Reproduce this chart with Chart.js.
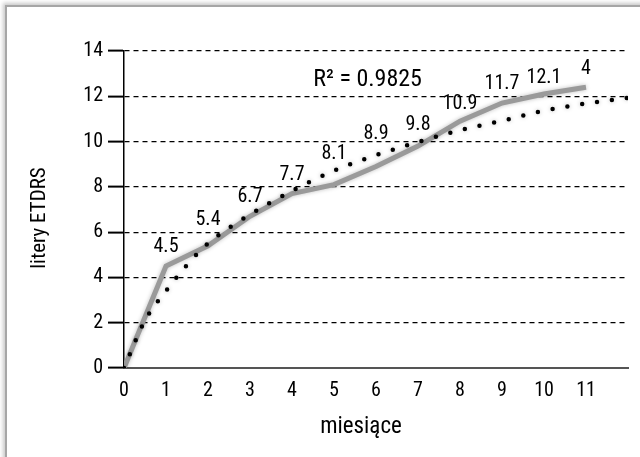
<!DOCTYPE html>
<html>
<head>
<meta charset="utf-8">
<script src="https://cdn.jsdelivr.net/npm/chart.js@4/dist/chart.umd.min.js"></script>
<style>
  html, body { margin: 0; padding: 0; background: #fff; overflow: hidden; }
  body { width: 640px; height: 457px; position: relative; }
  #frame {
    position: absolute; left: 5px; top: 5px; right: -20px; bottom: -20px;
    border-left: 2px solid #a6a6a6; border-top: 2px solid #a6a6a6;
    box-shadow: -2px -2px 4px rgba(0,0,0,0.22);
    background: #fff;
  }
  #chart { position: absolute; left: 0; top: 0; }
</style>
</head>
<body>
<div id="frame"></div>
<canvas id="chart" width="640" height="457"></canvas>
<script>
const months = [0, 1, 2, 3, 4, 5, 6, 7, 8, 9, 10, 11];
const letters = [0, 4.5, 5.4, 6.7, 7.7, 8.1, 8.9, 9.8, 10.9, 11.7, 12.1, 12.4];
const pointLabels = ["", "4.5", "5.4", "6.7", "7.7", "8.1", "8.9", "9.8", "10.9", "11.7", "12.1", "4"];
// trend line
const trendX = [0, 0.5, 1, 1.5, 2, 3, 4, 5, 6, 7, 8, 9, 10, 11, 12];
const trendY = [0, 2.1, 3.4, 4.55, 5.5, 6.78, 7.82, 8.72, 9.4, 9.98, 10.5, 10.92, 11.36, 11.68, 11.93];
const xTickLabels = ["0", "1", "2", "3", "4", "5", "6", "7", "8", "9", "10", "11", ""];
const yTicks = [0, 2, 4, 6, 8, 10, 12, 14];
const r2Text = "R² = 0.9825";
const xTitle = "miesiące";
const yTitle = "litery ETDRS";

const FONT = "'Roboto Condensed', 'Liberation Sans Narrow', 'DejaVu Sans Condensed', sans-serif";

const textPlugin = {
  id: "texts",
  beforeDatasetsDraw(chart) {
    const ctx = chart.ctx;
    ctx.save();
    ctx.shadowColor = "rgba(0,0,0,0.25)";
    ctx.shadowBlur = 4;
  },
  afterDatasetsDraw(chart, args, opts) {
    const ctx = chart.ctx;
    ctx.restore();
    const xs = chart.scales.x, ys = chart.scales.y;
    ctx.save();
    ctx.fillStyle = "#000";
    ctx.textAlign = "center";
    ctx.textBaseline = "middle";
    // value labels
    ctx.font = "20px " + FONT;
    const meta = chart.getDatasetMeta(1);
    meta.data.forEach((pt, i) => {
      if (!pointLabels[i]) return;
      ctx.fillText(pointLabels[i], pt.x, pt.y - opts.lift[i]);
    });
    // R squared
    ctx.font = "24px " + FONT;
    ctx.fillText(r2Text, xs.getPixelForValue(5.8), ys.getPixelForValue(12.7));
    // axis titles
    ctx.font = "23px " + FONT;
    ctx.fillText(xTitle, 361, 427);
    ctx.font = "21px " + FONT;
    ctx.translate(40, 218);
    ctx.rotate(-Math.PI / 2);
    ctx.fillText(yTitle, 0, 0);
    ctx.restore();
  }
};

new Chart(document.getElementById("chart").getContext("2d"), {
  type: "scatter",
  data: {
    datasets: [
      {
        label: "trend",
        data: trendX.map((x, i) => ({ x: x, y: trendY[i] })),
        showLine: true,
        borderColor: "#000",
        borderWidth: 4.5,
        borderDash: [0, 15],
        borderCapStyle: "round",
        cubicInterpolationMode: "monotone",
        pointRadius: 0
      },
      {
        label: "litery",
        data: months.map((m, i) => ({ x: m, y: letters[i] })),
        showLine: true,
        borderColor: "#9a9a9a",
        borderWidth: 5,
        borderJoinStyle: "miter",
        tension: 0,
        pointRadius: 0
      }
    ]
  },
  options: {
    responsive: false,
    animation: false,
    layout: { padding: { left: 0, right: 12, top: 51, bottom: 0 } },
    plugins: {
      legend: { display: false },
      tooltip: { enabled: false },
      texts: { lift: [0, 19, 26, 19, 19, 31, 32, 21, 17, 19, 16, 18] }
    },
    scales: {
      x: {
        type: "linear",
        min: 0,
        max: 12,
        afterFit(scale) { scale.height = 89; },
        afterBuildTicks(scale) { scale.ticks = xTickLabels.map((t, i) => ({ value: i })); },
        ticks: {
          stepSize: 1,
          autoSkip: false,
          maxRotation: 0,
          padding: 11,
          color: "#000",
          font: { family: FONT, size: 20 },
          callback: (v) => xTickLabels[v]
        },
        grid: { display: true, drawOnChartArea: false, drawTicks: false },
        border: { color: "#555", width: 2 }
      },
      y: {
        min: 0,
        max: 14,
        afterFit(scale) { scale.width = 124; },
        afterBuildTicks(scale) { scale.ticks = yTicks.map(v => ({ value: v })); },
        ticks: {
          padding: 5,
          color: "#000",
          font: { family: FONT, size: 20 }
        },
        grid: {
          color: (c) => (c.tick && c.tick.value === 0 ? "rgba(0,0,0,0)" : "#000"),
          lineWidth: 1.2,
          tickLength: 16,
          tickColor: "#000",
          tickWidth: 2,
          tickBorderDash: []
        },
        border: { color: "#000", width: 1.5, dash: [5, 4] }
      }
    }
  },
  plugins: [textPlugin]
});
</script>
</body>
</html>
